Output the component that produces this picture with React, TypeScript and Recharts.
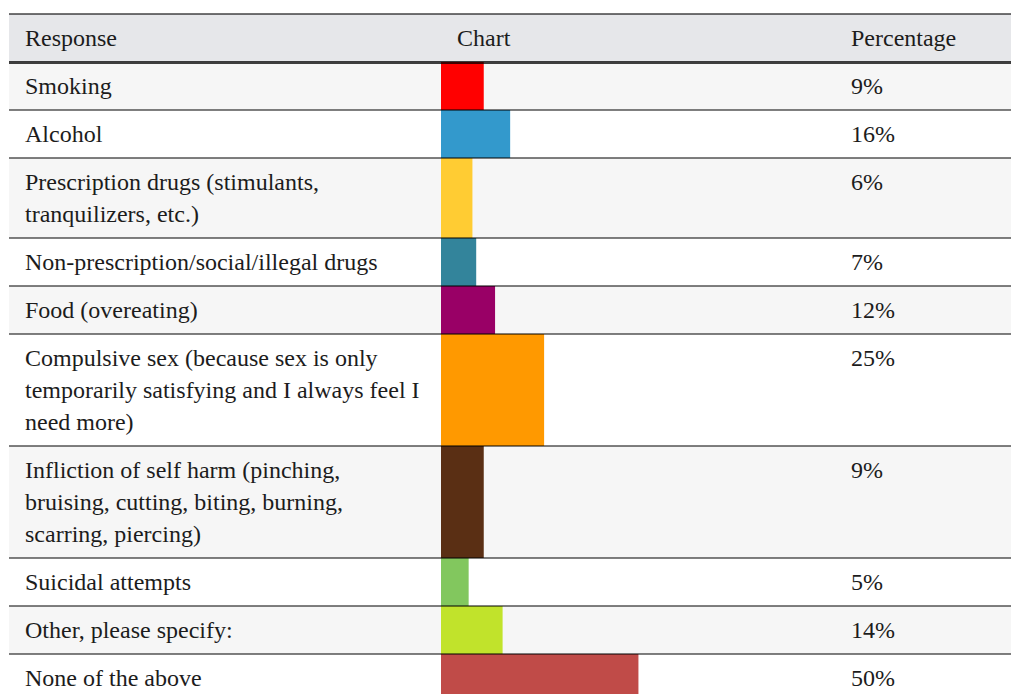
import React from 'react';
import { BarChart, Bar, XAxis, YAxis } from 'recharts';

// ---- data ----
const headers = ['Response', 'Chart', 'Percentage'];
const responses = [
  'Smoking',
  'Alcohol',
  'Prescription drugs (stimulants,\ntranquilizers, etc.)',
  'Non-prescription/social/illegal drugs',
  'Food (overeating)',
  'Compulsive sex (because sex is only\ntemporarily satisfying and I always feel I\nneed more)',
  'Infliction of self harm (pinching,\nbruising, cutting, biting, burning,\nscarring, piercing)',
  'Suicidal attempts',
  'Other, please specify:',
  'None of the above',
];
const percentages = [9, 16, 6, 7, 12, 25, 9, 5, 14, 50];
const percentLabels = ['9%', '16%', '6%', '7%', '12%', '25%', '9%', '5%', '14%', '50%'];
const barColors = [
  '#ff0000',
  '#3399cc',
  '#ffcc33',
  '#33849b',
  '#990066',
  '#ff9900',
  '#5a2f14',
  '#82c75e',
  '#c1e32b',
  '#c04b48',
];

// ---- layout / style ----
const AXIS_MIN = -2.33;
const AXIS_MAX = 102.1;
const LEFT = 9;
const COL1 = 432;
const COL2 = 394;
const PAD_X = 16;
const PAD_Y = 8;
const LINE_H = 32;
const TOP = 14;
const HEADER_H = 48;
const FONT = '"Liberation Serif"';
const TEXT_COLOR = '#1c1c1c';

const RowChart = ({ name, value, color, height }: { name: string; value: number; color: string; height: number }) => {
  const data = [{ name, value }];
  return (
    <BarChart
      width={COL2}
      height={height}
      data={data}
      layout="vertical"
      margin={{ top: 0, right: 0, bottom: 0, left: 0 }}
      barCategoryGap={0}
      barGap={0}
    >
      <XAxis type="number" domain={[AXIS_MIN, AXIS_MAX]} hide allowDataOverflow />
      <YAxis type="category" dataKey="name" hide />
      <Bar
        dataKey={(d: { value: number }) => [AXIS_MIN, d.value]}
        fill={color}
        isAnimationActive={false}
      />
    </BarChart>
  );
};

export default function App() {
  const lineCounts = responses.map((r) => r.split('\n').length);
  const heights = lineCounts.map((n) => n * LINE_H + 2 * PAD_Y);
  const tops: number[] = [];
  let y = TOP + HEADER_H;
  heights.forEach((h) => {
    tops.push(y);
    y += h;
  });

  const textStyle: React.CSSProperties = {
    position: 'absolute',
    fontFamily: FONT,
    fontSize: 24,
    lineHeight: `${LINE_H}px`,
    color: TEXT_COLOR,
    whiteSpace: 'pre',
  };

  return (
    <div
      style={{
        position: 'fixed',
        top: 0,
        left: 0,
        width: 1011,
        height: 694,
        overflow: 'hidden',
        background: '#ffffff',
      }}
    >
      {/* header background */}
      <div style={{ position: 'absolute', left: LEFT, top: TOP, width: 1011 - LEFT, height: HEADER_H, background: '#e6e7ea' }} />
      {/* row backgrounds */}
      {heights.map((h, i) => (
        <div
          key={'bg' + i}
          style={{
            position: 'absolute',
            left: LEFT,
            top: tops[i],
            width: 1011 - LEFT,
            height: h,
            background: i % 2 === 0 ? '#f6f6f6' : '#ffffff',
          }}
        />
      ))}
      {/* header texts */}
      <div style={{ ...textStyle, left: LEFT + PAD_X, top: TOP + PAD_Y }}>{headers[0]}</div>
      <div style={{ ...textStyle, left: LEFT + COL1 + PAD_X, top: TOP + PAD_Y }}>{headers[1]}</div>
      <div style={{ ...textStyle, left: LEFT + COL1 + COL2 + PAD_X, top: TOP + PAD_Y }}>{headers[2]}</div>
      {/* rows */}
      {responses.map((r, i) => (
        <React.Fragment key={'row' + i}>
          <div style={{ ...textStyle, left: LEFT + PAD_X, top: tops[i] + PAD_Y }}>{r}</div>
          <div style={{ position: 'absolute', left: LEFT + COL1, top: tops[i], width: COL2, height: heights[i] }}>
            <RowChart name={r} value={percentages[i]} color={barColors[i]} height={heights[i]} />
          </div>
          <div style={{ ...textStyle, left: LEFT + COL1 + COL2 + PAD_X, top: tops[i] + PAD_Y }}>{percentLabels[i]}</div>
        </React.Fragment>
      ))}
      {/* lines */}
      <div style={{ position: 'absolute', left: LEFT, top: TOP - 1, width: 1011 - LEFT, height: 2, background: 'rgba(0,0,0,0.55)' }} />
      <div style={{ position: 'absolute', left: LEFT, top: TOP + HEADER_H - 1, width: 1011 - LEFT, height: 3, background: 'rgba(0,0,0,0.75)' }} />
      {tops.slice(1).map((t, i) => (
        <div
          key={'ln' + i}
          style={{ position: 'absolute', left: LEFT, top: t - 1, width: 1011 - LEFT, height: 2, background: 'rgba(0,0,0,0.5)' }}
        />
      ))}
    </div>
  );
}
